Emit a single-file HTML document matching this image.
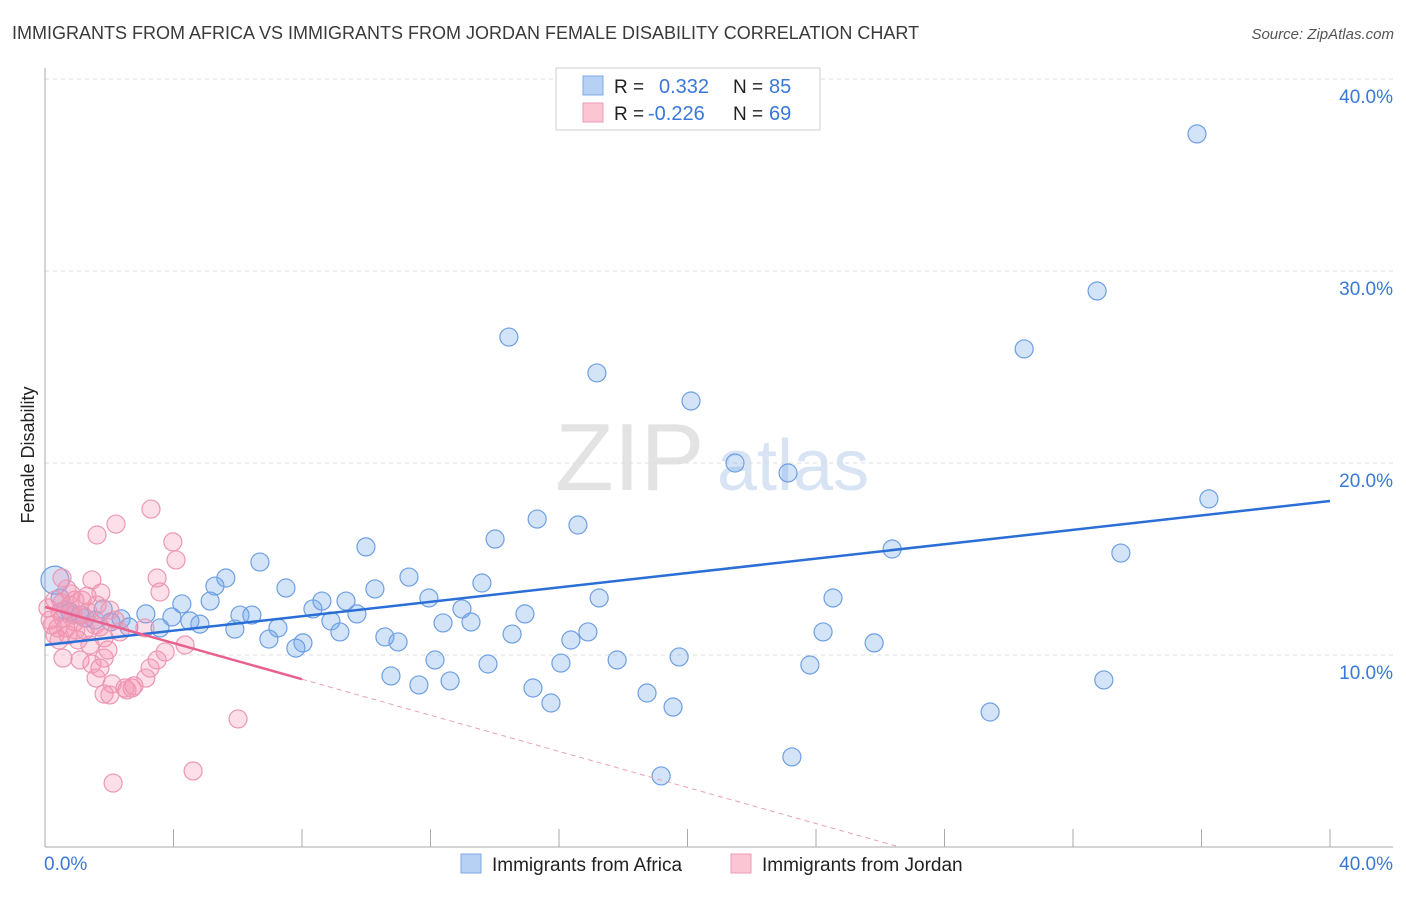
<!DOCTYPE html>
<html><head><meta charset="utf-8"><style>
body{margin:0;background:#fff;font-family:"Liberation Sans",sans-serif}
svg text{font-family:"Liberation Sans",sans-serif}
</style></head><body>
<svg id="chart" width="1406" height="892" xmlns="http://www.w3.org/2000/svg">
<text x="12" y="39" font-size="18" fill="#3a3a3a">IMMIGRANTS FROM AFRICA VS IMMIGRANTS FROM JORDAN FEMALE DISABILITY CORRELATION CHART</text>
<text x="1394" y="39" font-size="15" fill="#555" text-anchor="end" font-style="italic">Source: ZipAtlas.com</text>
<text x="555" y="490" font-size="96" fill="#ddd" font-family="Liberation Serif" opacity="0.8">ZIP</text>
<text x="717" y="490" font-size="72" fill="#c8d8f0" opacity="0.7">atlas</text>
<text transform="translate(34,455) rotate(-90)" font-size="18" fill="#222" text-anchor="middle">Female Disability</text>
<g id="grid"></g><g id="axes"></g><g id="blue"></g><g id="pink"></g><g id="trend"></g>
<g>
<rect x="556" y="68" width="264" height="62" fill="#fff" stroke="#ccc"/>
<rect x="583" y="76" width="20" height="19" fill="#b7d1f5" stroke="#7fa8e6"/>
<rect x="583" y="103" width="20" height="19" fill="#fbc5d4" stroke="#ec9ab4"/>
<text x="614" y="93" font-size="19" fill="#222">R =</text><text x="659" y="93" font-size="20" fill="#3a78d8">0.332</text>
<text x="733" y="93" font-size="19" fill="#222">N =</text><text x="769" y="93" font-size="20" fill="#3a78d8">85</text>
<text x="614" y="120" font-size="19" fill="#222">R =</text><text x="648" y="120" font-size="20" fill="#3a78d8">-0.226</text>
<text x="733" y="120" font-size="19" fill="#222">N =</text><text x="769" y="120" font-size="20" fill="#3a78d8">69</text>
</g>
<g>
<rect x="461" y="854" width="20" height="19" fill="#b7d1f5" stroke="#7fa8e6"/>
<text x="492" y="871" font-size="19" fill="#222">Immigrants from Africa</text>
<rect x="731" y="854" width="20" height="19" fill="#fbc5d4" stroke="#ec9ab4"/>
<text x="762" y="871" font-size="19" fill="#222">Immigrants from Jordan</text>
</g>
</svg>
<script>
const yTicks=[10,20,30,40];
const yTickLabels=["10.0%","20.0%","30.0%","40.0%"];
const xTicks=[0,4,8,12,16,20,24,28,32,36,40];
const xEndLabels=["0.0%","40.0%"];
const africaX=[35.86,32.75,30.48,14.44,17.18,20.11,21.48,23.13,36.23,33.49,26.37,15.32,16.59,14.01,9.99,6.69,5.63,5.29,7.5,11.33,13.6,10.27,11.95,17.25,24.53,4.26,5.14,8.34,8.62,9.37,12.98,14.94,9.71,6.07,6.44,3.14,3.95,1.81,2.37,4.82,4.51,8.9,12.39,13.26,5.91,7.25,2.61,2.05,3.58,9.18,10.58,10.99,14.54,16.9,16.37,24.22,6.97,8.03,7.81,25.81,12.14,13.79,16.06,17.81,19.74,23.81,10.77,11.64,12.61,15.19,15.75,18.74,19.55,29.42,32.96,23.25,19.18,0.31,0.47,0.62,1.09,1.56,0.78,1.25];
const africaY=[37.14,28.96,25.94,26.56,24.69,23.23,20.0,19.48,18.13,15.31,15.52,17.08,16.77,16.04,15.63,14.84,14.01,13.59,13.49,14.06,13.75,13.44,12.97,12.97,12.97,12.66,12.81,12.4,12.81,12.81,12.4,12.14,12.14,12.08,12.08,12.14,11.98,12.4,11.88,11.61,11.77,11.77,11.67,11.72,11.35,11.41,11.46,11.72,11.41,11.2,10.94,10.68,11.09,11.2,10.78,11.2,10.83,10.63,10.36,10.63,9.74,9.53,9.58,9.74,9.9,9.48,8.91,8.44,8.65,8.28,7.5,8.02,7.29,7.03,8.7,4.69,3.7,13.9,12.97,12.34,12.08,11.82,12.24,11.93];
const jordanX=[3.3,2.21,1.62,3.98,4.08,0.53,1.46,3.49,0.68,1.74,3.58,0.31,0.78,1.15,1.34,0.56,0.93,0.4,1.25,1.56,2.02,0.72,1.03,1.84,2.33,0.16,0.31,3.11,3.74,4.36,0.56,1.09,1.84,1.46,1.71,3.27,3.49,3.14,1.59,2.09,2.49,1.84,2.02,2.71,2.55,2.77,6.01,4.61,2.12,0.09,0.22,0.47,0.87,0.65,1.4,1.96,0.93,1.15,2.18,0.44,1.62,1.31,0.81,1.71,0.53,0.96];
const jordanY=[17.6,16.82,16.25,15.89,14.95,14.01,13.91,14.01,13.44,13.23,13.28,12.86,12.6,12.86,12.24,11.93,11.72,11.41,11.3,11.56,12.34,11.04,10.78,10.89,11.2,11.82,11.04,11.41,10.16,10.52,9.84,9.74,9.84,9.53,9.32,9.32,9.74,8.8,8.8,8.49,8.28,7.97,7.92,8.28,8.18,8.39,6.67,3.96,3.33,12.45,11.56,12.24,12.08,11.41,10.52,10.26,12.86,12.08,11.82,10.78,12.6,13.07,13.18,11.46,12.71,11.3];
const africaTrend=[10.52,18.02];
const jordanTrend=[12.5,-0.47];
const NS="http://www.w3.org/2000/svg";
const sx=v=>45+v*32.125, sy=v=>847-v*19.2;
function mk(tag,attrs,parent){const e=document.createElementNS(NS,tag);for(const k in attrs)e.setAttribute(k,attrs[k]);parent.appendChild(e);return e;}
const grid=document.getElementById('grid'),axes=document.getElementById('axes');
yTicks.forEach((t,i)=>{
 const l=mk('line',{x1:45,x2:1393,y1:sy(t),y2:sy(t),stroke:'#ddd','stroke-dasharray':'4,4'},grid);
 
 
 const tx=mk('text',{x:1393,y:sy(t)+24,'font-size':19,fill:'#3a78d8','text-anchor':'end'},axes);
 tx.textContent=yTickLabels[i];
 
 
});
const ya=mk('line',{x1:45,x2:45,y1:68,y2:847,stroke:'#aaa'},axes);


const xa=mk('line',{x1:45,x2:1393,y1:847,y2:847,stroke:'#aaa'},axes);


xTicks.forEach(t=>{
 const l=mk('line',{x1:sx(t),x2:sx(t),y1:829,y2:847,stroke:'#aaa'},axes);
 
 
});
[[0,'start',44],[40,'end',1393]].forEach((d,i)=>{
 const tx=mk('text',{x:d[2],y:870,'font-size':19,fill:'#3a78d8','text-anchor':d[1]},axes);
 tx.textContent=xEndLabels[i];
 
 
});
const bg=document.getElementById('blue'),pg=document.getElementById('pink');
africaX.forEach((x,i)=>{
 const r=(i===77)?14:9;
 const c=mk('circle',{cx:sx(x),cy:sy(africaY[i]),r:r,fill:'rgba(110,165,235,0.3)',stroke:'#6e9fe2','stroke-width':1.2},bg);
 
 
});
jordanX.forEach((x,i)=>{
 const c=mk('circle',{cx:sx(x),cy:sy(jordanY[i]),r:9,fill:'rgba(245,150,180,0.3)',stroke:'#ec97b2','stroke-width':1.2},pg);
 
 
});
const tg=document.getElementById('trend');
const bt=mk('line',{x1:sx(0),y1:sy(africaTrend[0]),x2:sx(40),y2:sy(africaTrend[1]),stroke:'#2a6fd6','stroke-width':2.5},tg);


const jf=x=>jordanTrend[0]+jordanTrend[1]*x;
const pt=mk('line',{x1:sx(0),y1:sy(jf(0)),x2:sx(8),y2:sy(jf(8)),stroke:'#e8618e','stroke-width':2.5},tg);


const xEnd=-jordanTrend[0]/jordanTrend[1];
const pd=mk('line',{x1:sx(8),y1:sy(jf(8)),x2:sx(xEnd),y2:sy(0),stroke:'#e8a0b8','stroke-width':1,'stroke-dasharray':'5,4'},tg);


</script>
</body></html>
